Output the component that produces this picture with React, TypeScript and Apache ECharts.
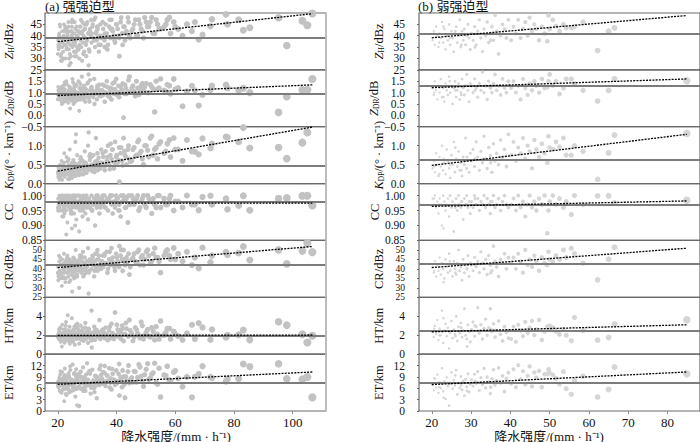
import React, { useEffect, useRef } from "react";
import * as echarts from "echarts";

// ---------- axes ----------
const yMin = [25, -0.5, 0, 0.85, 25, 0, 0];
const yMax = [50, 2.0, 1.5, 1.04, 55, 6, 15];
const yTicks = [
  [25, 30, 35, 40, 45],
  [-0.5, 0, 0.5, 1, 1.5],
  [0, 0.5, 1],
  [0.85, 0.9, 0.95, 1],
  [25, 30, 35, 40, 45, 50],
  [0, 2, 4],
  [0, 3, 6, 9, 12],
];
const yDecimals = [0, 1, 1, 2, 0, 0, 0];
const yNames = [
  "{it|Z}{sub|H}/dBz",
  "{it|Z}{sub|DR}/dB",
  "{it|K}{sub|DP}/(° · km⁻¹)",
  "CC",
  "CR/dBz",
  "HT/km",
  "ET/km",
];
const xTicksLeft = [20, 40, 60, 80, 100];
const xTicksRight = [20, 30, 40, 50, 60, 70, 80];
const xRangeLeft = [15.65, 111.35];
const xRangeRight = [16.75, 88.25];
const titles = ["(a) 强强迫型", "(b) 弱强迫型"];
const xName = "降水强度/(mm · h⁻¹)";

// ---------- fit and mean lines ----------
const fitStartLeft = [37.4, 0.87, 0.33, 0.975, 40.7, 1.98, 7.05];
const fitEndLeft = [49.7, 1.34, 1.49, 0.975, 51.8, 2.02, 10.3];
const meanLeft = [39.1, 0.94, 0.48, 0.976, 42.1, 1.96, 7.5];
const fitXLeft = [20, 106.7];
const fitStartRight = [39.1, 1.22, 0.48, 0.964, 40.7, 2.36, 6.97];
const fitEndRight = [48.9, 1.6, 1.3, 0.982, 50.9, 3.1, 10.3];
const meanRight = [40.9, 1.28, 0.63, 0.967, 42.5, 2.47, 7.5];
const fitXRight = [20, 84.9];

// ---------- left column samples (strong forcing) ----------
const xLeft = [
  33.4, 34.3, 35.3, 36.1, 36.9, 37.7, 38.5, 39.3, 40.1, 40.7,
  41.6, 42.1, 42.7, 43.2, 44.1, 44.7, 45.6, 46.4, 47.2, 48.0,
  48.8, 49.6, 50.6, 51.5, 52.5, 53.5, 54.5, 56.8, 58.0, 60.0,
  20.0, 20.7, 21.7, 22.5, 23.2, 23.9, 24.7, 25.7, 26.4, 27.1,
  27.9, 28.7, 29.3, 30.1, 30.8, 31.9, 20.15, 21.05, 22.35, 23.55,
  24.45, 25.35, 26.25, 27.5, 28.3, 29.1, 31.0, 32.8, 20.55, 21.55,
  22.55, 23.85, 24.75, 25.75, 26.85, 27.7, 29.7, 31.4, 33.2, 34.0,
  20.1, 20.3, 20.5, 20.6, 20.8, 21.0, 21.1, 21.3, 21.5, 21.6,
  21.8, 22.0, 22.1, 22.3, 22.4, 22.6, 22.8, 23.0, 23.1, 23.3,
  23.5, 23.6, 23.8, 24.0, 24.1, 24.3, 24.5, 24.6, 24.8, 25.0,
  25.1, 25.3, 25.5, 25.6, 25.8, 26.0, 26.1, 26.3, 26.5, 26.7,
  20.2, 20.9, 21.4, 22.2, 22.9, 23.4, 24.2, 24.9, 25.4, 26.2,
  20.4, 21.2, 21.9, 22.7, 23.7, 24.4, 25.2, 25.9, 26.6, 26.9,
  27.0, 27.2, 27.4, 27.6, 27.8, 28.0, 28.2, 28.4, 28.6, 28.8,
  29.0, 29.2, 29.4, 29.6, 29.8, 30.0, 30.3, 30.6, 30.9, 31.2,
  31.5, 31.8, 32.1, 32.4, 32.7, 33.0, 33.3, 33.6, 33.9, 34.2,
  34.5, 34.8, 27.3, 28.5, 29.5, 30.5, 31.6, 32.5, 33.5, 34.6,
  35.1, 35.5, 35.9, 36.3, 36.7, 37.1, 37.5, 37.9, 38.3, 38.7,
  39.1, 39.5, 39.9, 40.4, 40.9, 41.4, 41.9, 42.4, 42.9, 43.4,
  43.9, 44.4, 36.0, 38.0, 41.0,
  45.2, 46.0, 46.8, 47.6, 48.4, 49.2, 50.1, 51.0, 52.0, 53.0, 54.0, 55.0,
  56.2, 57.3, 58.4, 59.5, 61.0, 62.5, 64.0, 65.7,
  66.7, 68.0, 69.3, 72.0, 72.5, 77.3, 77.8, 81.6, 83.2, 85.4, 95.2, 98.0, 103.3, 105.0, 106.7,
];
const zhLeft = [
  44, 36, 46, 41, 34, 47, 43, 38, 45, 40,
  48, 36, 44, 41, 46, 39, 43, 47, 40, 45,
  42, 48, 44, 46, 41, 47, 43, 45, 48, 44,
  32, 45, 30, 43, 40, 27, 46, 31, 44, 34,
  47, 32, 43, 46, 33, 45, 36, 29, 42, 44,
  31, 46, 33, 41, 29, 45, 43, 48, 40, 35,
  44, 30, 42, 46, 34, 44, 31, 47, 42, 33,
  38, 34, 41, 36, 44, 31, 39, 35, 42, 37,
  33, 40, 45, 36, 38, 30, 43, 35, 39, 41,
  37, 46, 34, 38, 32, 42, 36, 40, 44, 35,
  39, 37, 33, 41, 36, 43, 38, 31, 40, 42,
  35, 37, 29, 39, 34, 42, 36, 47, 38, 33,
  40, 32, 38, 36, 44, 28, 41, 37, 35, 39,
  39, 42, 36, 44, 38, 35, 41, 46, 37, 40,
  33, 43, 39, 36, 45, 38, 41, 34, 42, 40,
  37, 44, 39, 47, 35, 41, 38, 43, 36, 40,
  45, 39, 30, 42, 37, 27, 41, 38, 44, 36,
  40, 43, 38, 45, 41, 36, 44, 39, 47, 42,
  40, 37, 45, 43, 39, 46, 41, 44, 38, 42,
  48, 40, 35, 43, 31,
  42, 45, 40, 47, 43, 39, 46, 44, 48, 41, 45, 43,
  44, 47, 41, 46, 43, 40, 45, 42,
  46, 38.3, 40.5, 44.2, 47.2, 49.4, 45, 47, 42.4, 43.5, 47.9, 35.7, 46.6, 44.6, 49.8,
];
const zdrLeft = [
  1.2, 0.85, 1.35, 1.0, 1.25, 0.8, 1.15, 1.45, 0.9, 1.3,
  1.05, 1.4, 0.95, 1.2, 1.55, 1.0, 1.3, 0.85, 1.2, 1.1,
  1.4, 1.25, 1.0, 1.35, 1.15, 1.5, 1.2, 1.05, 1.3, 1.15,
  0.7, 1.2, 0.55, 1.35, 0.85, 1.1, 0.65, 1.3, 0.9, 1.5,
  0.75, 1.2, 0.95, 1.4, 0.6, 1.1, 1.25, 0.8, 1.45, 0.7,
  1.05, 0.5, 1.3, 0.85, 1.2, 0.65, 1.55, 1.0, 0.78, 1.18,
  0.62, 1.28, 0.92, 1.08, 0.68, 1.38, 0.82, 1.22, 0.98, 1.12,
  0.9, 1.1, 0.7, 1.0, 0.8, 1.2, 0.95, 0.6, 1.05, 0.85,
  1.3, 0.75, 1.0, 0.9, 1.15, 0.65, 0.95, 1.4, 0.8, 1.0,
  0.9, 0.55, 1.1, 0.85, 1.25, 0.7, 1.0, 0.95, 0.8, 1.6,
  1.05, 0.9, 0.75, 1.2, 0.6, 1.0, 0.85, 1.35, 0.95, 0.7,
  1.1, 0.8, 0.5, 1.0, 1.5, 0.9, 0.3, 1.15, 0.85, 1.0,
  0.95, 1.25, 0.7, 0.9, 1.05, 0.8, 1.45, 0.6, 1.0, 0.88,
  1.0, 0.85, 1.2, 0.95, 0.7, 1.1, 1.7, 0.9, 1.05, 0.8,
  1.3, 0.95, 0.6, 1.15, 1.0, 0.85, 1.45, 0.75, 1.1, 0.9,
  1.25, 1.0, 0.8, 1.6, 0.95, 1.05, 0.7, 1.2, 0.9, 1.35,
  1.0, 0.85, 0.2, 1.15, 0.95, 1.8, 1.05, 0.5, 1.3, 0.9,
  1.1, 0.9, 1.3, 1.0, 1.5, 0.85, 1.2, 1.05, 0.7, 1.4,
  0.95, 1.15, 1.6, 1.0, 0.8, 1.25, 1.1, -0.1, 1.35, 0.95,
  1.05, 1.7, 0.6, 1.2, 1.0,
  1.2, 1.05, 1.5, 0.9, 1.3, 1.1, 1.4, 1.0, 1.25, 0.15, 1.15, 1.6,
  1.1, 1.35, 0.95, 1.6, 1.2, 0.4, 1.05, 1.3,
  1.1, 0.43, 0.9, 1.12, 1.3, 1.34, 1.2, 1.1, 1.19, 1.0, 0.13, 0.82, 1.12, 1.12, 1.6,
];
const kdpLeft = [
  0.6, 0.45, 0.8, 0.5, 0.7, 0.38, 0.9, 0.55, 0.75, 0.62,
  0.95, 0.48, 0.85, 0.7, 1.0, 0.58, 0.9, 0.72, 1.1, 0.8,
  0.65, 1.0, 0.88, 1.2, 0.75, 0.95, 1.05, 0.85, 1.15, 0.9,
  0.3, 0.15, 0.45, 0.25, 0.58, 0.12, 0.38, 0.2, 0.5, 0.32,
  0.66, 0.24, 0.55, 0.4, 0.72, 0.34, 0.18, 0.28, 0.42, 0.6,
  0.22, 0.5, 0.36, 0.46, 0.6, 0.3, 0.78, 0.5, 0.1, 0.33,
  0.26, 0.44, 0.19, 0.54, 0.31, 0.64, 0.4, 0.7, 0.56, 0.48,
  0.25, 0.4, 0.15, 0.35, 0.5, 0.2, 0.3, 0.6, 0.1, 0.45,
  0.3, 0.22, 0.55, 0.35, 0.18, 0.42, 0.28, 0.7, 0.25, 0.38,
  0.12, 0.48, 0.32, 0.2, 0.9, 0.36, 0.27, 0.52, 0.15, 0.4,
  0.3, 0.62, 0.24, 0.44, 0.33, 1.1, 0.2, 0.5, 0.38, 0.28,
  0.45, 0.18, 0.35, 0.8, 0.26, 0.4, 0.14, 0.55, 0.3, 1.3,
  0.22, 0.37, 0.48, 0.29, 0.65, 0.2, 0.42, 0.34, 0.75, 0.26,
  0.4, 0.3, 0.55, 0.35, 0.7, 0.45, 0.25, 0.6, 0.38, 0.5,
  0.3, 0.85, 0.42, 0.55, 0.28, 0.48, 1.0, 0.36, 0.62, 0.44,
  0.5, 0.32, 0.75, 0.4, 0.58, 1.2, 0.46, 0.35, 0.68, 0.52,
  0.4, 0.9, 0.22, 0.6, 0.45, 1.35, 0.5, 0.3, 0.8, 0.55,
  0.55, 0.7, 0.45, 0.85, 0.6, 1.0, 0.5, 0.75, 0.65, 0.9,
  0.4, 1.1, 0.7, 0.55, 0.95, 0.8, 0.6, 1.2, 0.75, 0.5,
  0.9, 0.65, 0.35, 1.05, 0.05,
  0.6, 0.95, 0.75, 1.15, 0.85, 0.5, 1.0, 0.7, 1.25, 0.9, 0.65, 1.1,
  0.8, 1.05, 0.7, 1.2, 0.9, 0.6, 1.15, 0.85,
  0.84, 0.77, 1.19, 0.93, 1.05, 1.23, 1.22, 1.1, 1.48, 0.94, 0.95, 0.66, 1.08, 1.35, 1.6,
];
const ccLeft = [
  0.99, 0.97, 1.0, 0.96, 0.99, 0.98, 1.0, 0.97, 0.99, 0.95,
  1.0, 0.98, 0.99, 0.96, 1.0, 0.97, 0.99, 0.98, 1.0, 0.96,
  0.99, 0.97, 1.0, 0.98, 0.99, 0.96, 1.0, 0.97, 0.99, 0.98,
  0.96, 0.99, 0.95, 0.98, 0.97, 0.99, 0.94, 1.0, 0.96, 0.98,
  0.97, 0.95, 0.99, 0.96, 0.98, 0.97, 0.95, 0.99, 0.96, 0.98,
  0.94, 1.0, 0.97, 0.95, 0.99, 0.96, 0.98, 0.97, 0.955, 0.985,
  0.965, 0.975, 0.945, 0.99, 0.96, 0.98, 0.97, 0.955, 1.0, 0.965,
  0.99, 0.97, 1.0, 0.96, 0.98, 0.95, 0.99, 0.97, 0.93, 1.0,
  0.98, 0.96, 0.99, 0.94, 0.97, 1.0, 0.95, 0.98, 0.99, 0.91,
  0.97, 0.99, 0.96, 1.0, 0.98, 0.95, 0.97, 0.99, 0.89, 0.96,
  1.0, 0.98, 0.97, 0.94, 0.99, 0.96, 0.98, 0.92, 1.0, 0.97,
  0.95, 0.99, 0.98, 0.96, 0.87, 1.0, 0.97, 0.94, 0.99, 0.98,
  0.96, 1.0, 0.93, 0.97, 0.99, 0.95, 0.98, 0.9, 0.97, 1.0,
  0.98, 0.96, 1.0, 0.97, 0.99, 0.95, 0.98, 0.93, 1.0, 0.97,
  0.96, 0.99, 0.94, 0.98, 1.0, 0.97, 0.92, 0.99, 0.96, 0.98,
  1.0, 0.95, 0.97, 0.99, 0.9, 0.98, 0.96, 1.0, 0.97, 0.94,
  0.99, 0.98, 0.88, 0.96, 1.0, 0.97, 0.95, 0.99, 0.98, 0.96,
  0.99, 0.97, 1.0, 0.96, 0.98, 0.95, 0.99, 1.0, 0.97, 0.94,
  0.98, 0.96, 1.0, 0.99, 0.97, 0.93, 0.98, 1.0, 0.96, 0.99,
  0.91, 0.97, 0.98, 1.0, 0.95,
  1.0, 0.97, 0.99, 0.95, 0.98, 1.0, 0.96, 0.99, 0.94, 0.97, 1.0, 0.96,
  0.99, 0.97, 1.0, 0.95, 0.98, 0.96, 1.0, 0.97,
  0.97, 0.951, 0.995, 0.999, 0.97, 0.99, 0.954, 0.967, 0.999, 0.951, 0.99, 0.992, 0.999, 0.999, 0.967,
];
const crLeft = [
  45, 40, 47, 43, 38, 49, 44, 41, 46, 42,
  50, 39, 45, 43, 48, 41, 46, 44, 49, 42,
  47, 45, 50, 43, 48, 46, 44, 49, 47, 45,
  38, 44, 35, 42, 46, 33, 40, 45, 37, 43,
  47, 36, 41, 44, 39, 46, 34, 42, 38, 45,
  40, 36, 43, 47, 39, 41, 44, 48, 37, 42,
  35, 45, 39, 43, 41, 46, 38, 44, 40, 47,
  41, 37, 44, 39, 46, 35, 42, 38, 45, 40,
  36, 43, 48, 39, 41, 33, 44, 38, 42, 47,
  40, 36, 43, 39, 45, 34, 41, 37, 44, 42,
  38, 46, 40, 35, 43, 39, 50, 41, 37, 44,
  36, 42, 31, 40, 45, 38, 43, 28, 41, 39,
  47, 37, 42, 35, 40, 44, 38, 41, 36, 43,
  42, 39, 45, 41, 47, 38, 44, 40, 49, 43,
  37, 46, 42, 39, 44, 41, 51, 38, 45, 43,
  40, 47, 42, 36, 44, 41, 48, 39, 45, 42,
  43, 40, 30, 46, 41, 27, 44, 39, 50, 42,
  44, 41, 47, 43, 49, 40, 45, 42, 51, 46,
  43, 39, 48, 44, 41, 47, 45, 50, 42, 46,
  44, 37, 48, 43, 52,
  45, 48, 43, 50, 46, 42, 49, 47, 44, 51, 46, 38,
  47, 50, 45, 51, 48, 44, 49, 42,
  46, 40.3, 51.2, 43.5, 47, 48.8, 47.4, 48.3, 51.8, 44.7, 50, 42.6, 49.5, 53.6, 48.8,
];
const htLeft = [
  2.3, 1.7, 2.6, 2.0, 1.5, 2.9, 2.2, 1.8, 3.1, 2.4,
  1.6, 2.7, 2.1, 3.3, 1.9, 2.5, 1.4, 2.8, 2.2, 1.7,
  3.0, 2.0, 2.6, 1.8, 2.4, 2.9, 1.6, 2.3, 2.7, 2.1,
  1.8, 2.3, 1.5, 2.6, 1.9, 2.2, 1.4, 2.9, 1.7, 2.4,
  2.0, 1.6, 2.8, 1.9, 2.3, 1.5, 2.1, 2.7, 1.3, 2.5,
  1.8, 2.2, 3.1, 1.6, 2.4, 2.0, 1.7, 2.6, 2.15, 1.75,
  2.45, 1.55, 2.35, 1.95, 2.65, 1.85, 2.25, 1.45, 2.55, 2.05,
  2.0, 1.6, 2.4, 1.8, 2.8, 1.3, 2.2, 1.9, 3.1, 1.5,
  2.1, 1.7, 2.6, 1.2, 2.3, 1.9, 3.4, 1.6, 2.0, 2.5,
  1.4, 2.2, 1.8, 2.9, 1.1, 2.0, 2.4, 1.7, 3.8, 2.1,
  1.5, 2.6, 1.9, 2.3, 1.0, 2.0, 2.7, 1.6, 2.2, 3.2,
  1.8, 2.1, 0.8, 2.5, 1.7, 4.1, 2.0, 1.4, 2.3, 1.9,
  2.6, 1.5, 2.2, 3.0, 1.8, 2.4, 1.3, 2.0, 2.8, 1.7,
  2.1, 1.7, 2.5, 1.9, 3.0, 1.5, 2.3, 2.0, 2.7, 1.4,
  2.2, 1.8, 3.3, 1.6, 2.4, 2.0, 1.2, 2.6, 1.9, 2.2,
  4.6, 1.7, 2.3, 2.9, 1.5, 2.1, 2.5, 1.8, 2.0, 3.6,
  1.6, 2.4, 1.1, 2.2, 1.9, 2.7, 0.7, 2.0, 2.3, 1.8,
  2.0, 2.4, 1.7, 2.8, 2.1, 1.5, 2.5, 1.9, 3.2, 2.2,
  1.6, 4.4, 2.0, 2.6, 1.8, 2.3, 3.0, 1.4, 2.1, 2.7,
  1.9, 3.6, 2.2, 1.7, 2.5,
  2.2, 1.8, 2.6, 2.0, 3.4, 1.6, 2.3, 1.9, 2.8, 1.5, 2.1, 3.5,
  2.0, 2.7, 1.6, 2.4, 1.9, 1.5, 2.2, 3.1,
  1.6, 3.28, 2.82, 1.51, 2.6, 1.76, 2.0, 2.04, 2.54, 1.51, 3.42, 3.07, 2.1, 1.23, 1.94,
];
const etLeft = [
  8.6, 6.9, 10.3, 7.8, 9.4, 6.2, 11.1, 8.1, 7.3, 9.8,
  8.4, 10.7, 7.0, 9.1, 12.0, 8.3, 7.6, 10.4, 8.9, 11.6,
  7.9, 9.6, 12.5, 8.7, 10.1, 7.4, 11.3, 9.3, 8.2, 10.6,
  6.8, 8.4, 5.6, 9.2, 7.3, 4.9, 8.0, 10.1, 6.2, 7.7,
  9.0, 5.3, 8.6, 7.0, 10.6, 6.5, 7.9, 5.0, 9.5, 6.9,
  8.2, 7.4, 11.0, 6.0, 8.8, 7.2, 9.9, 6.6, 7.6, 8.5,
  5.8, 9.3, 7.1, 6.3, 8.9, 10.3, 7.8, 6.1, 9.1, 8.0,
  7.5, 6.2, 8.8, 5.4, 9.6, 7.0, 8.2, 4.8, 10.3, 6.8,
  7.8, 5.9, 9.1, 6.5, 11.2, 7.3, 8.5, 4.2, 7.9, 6.1,
  9.4, 7.1, 5.6, 8.7, 6.9, 10.8, 7.6, 5.2, 8.3, 6.6,
  12.3, 7.2, 9.8, 6.0, 8.0, 3.8, 7.4, 9.0, 5.8, 8.6,
  6.4, 10.5, 7.7, 2.6, 8.9, 6.3, 11.8, 7.0, 5.5, 9.3,
  7.9, 6.7, 8.4, 4.5, 10.0, 7.2, 6.0, 8.1, 1.5, 9.7,
  8.0, 6.5, 9.2, 7.1, 10.4, 5.8, 8.6, 7.4, 11.5, 6.2,
  8.9, 7.7, 5.3, 9.6, 7.0, 12.6, 8.3, 6.8, 9.9, 4.6,
  7.5, 10.9, 8.1, 6.1, 9.3, 7.8, 3.4, 8.7, 6.9, 11.1,
  7.3, 9.5, 1.3, 8.2, 6.4, 10.2, 7.6, 5.0, 8.8, 12.0,
  8.5, 7.2, 10.1, 6.6, 9.4, 8.0, 11.3, 7.5, 5.7, 9.8,
  8.3, 6.9, 10.7, 7.8, 12.4, 8.9, 6.3, 9.1, 3.5, 8.0,
  10.4, 7.4, 11.9, 8.6, 4.1,
  8.8, 10.5, 7.6, 12.3, 9.2, 6.5, 11.0, 8.3, 9.7, 12.6, 7.1, 3.7,
  9.5, 11.8, 7.9, 10.2, 8.6, 6.4, 9.0, 3.6,
  9.0, 9.8, 11.8, 9.0, 8.7, 7.8, 8.5, 8.5, 12.4, 11.7, 12.45, 8.5, 8.35, 9.0, 3.6,
];

// ---------- right column samples (weak forcing) ----------
const xRight = [
  20.2, 20.5, 20.8, 21.1, 21.4, 21.7, 22.0, 22.3, 22.6, 22.9,
  23.2, 23.5, 23.8, 24.1, 24.4, 24.7, 25.0, 25.3, 25.6, 25.9,
  26.2, 26.5, 26.8, 27.1, 27.4, 27.7, 28.0, 28.3, 28.6, 28.9,
  29.2, 29.5, 29.8, 20.6, 21.9, 23.0, 24.6, 26.0, 27.5, 29.0,
  30.1, 30.5, 30.9, 31.3, 31.7, 32.1, 32.5, 32.9, 33.3, 33.7,
  34.1, 34.5, 34.9, 35.3, 35.7, 36.1, 36.5, 37.0, 37.5, 38.0,
  38.5, 39.0, 39.5, 31.0, 35.0,
  40.2, 40.8, 41.4, 42.0, 42.6, 43.2, 43.8, 44.4, 44.9, 45.5,
  46.1, 46.6, 47.3, 48.0, 48.7, 49.4, 49.7, 50.0,
  50.8, 51.6, 52.5, 53.5, 54.2, 55.5, 56.3, 58.5,
  62.2, 65.0, 66.5, 84.9,
];
const zhRight = [
  38, 42, 36, 44, 40, 35, 41, 39, 46, 37,
  43, 34, 40, 38, 45, 36, 42, 39, 33, 41,
  44, 37, 40, 47, 35, 42, 38, 43, 36, 40,
  45, 39, 34, 41, 37, 44, 39, 42, 36, 40,
  41, 38, 44, 36, 42, 47, 39, 33, 43, 40,
  46, 37, 41, 44, 38, 49, 42, 32, 40, 45,
  43, 39, 47, 35, 38,
  38, 44, 41, 47, 39, 43, 46, 40, 48, 42,
  45, 43, 38, 44, 41, 37.6, 48.9, 43,
  47, 44.2, 42, 45, 43.5, 43.5, 44, 46,
  33.5, 42, 43.5, 51,
];
const zdrRight = [
  1.2, 0.9, 1.5, 1.1, 0.7, 1.3, 1.0, 1.6, 0.8, 1.2,
  0.6, 1.4, 1.1, 0.9, 1.7, 1.0, 1.3, 0.5, 1.2, 1.5,
  0.8, 1.1, 1.4, 0.7, 1.0, 1.6, 1.2, 0.9, 1.3, 1.8,
  1.1, 0.6, 1.4, 1.0, 1.2, 0.8, 1.5, 1.1, 0.9, 1.3,
  1.3, 1.0, 1.6, 1.2, 0.8, 1.4, 1.1, 1.9, 1.0, 1.3,
  0.7, 1.5, 1.2, 1.0, 1.4, 1.8, 1.1, 1.3, 0.9, 1.6,
  1.2, 1.0, 1.5, 1.1, 1.3,
  1.2, 1.5, 1.0, 1.3, 0.7, 1.6, 1.2, 0.9, 1.4, 1.1,
  1.5, 1.3, 1.0, 1.6, 1.2, 1.24, 1.5, 1.8,
  1.3, 1.5, 0.94, 1.2, 1.6, 1.6, 1.4, 1.1,
  0.63, 1.09, 1.6, 1.52,
];
const kdpRight = [
  0.4, 0.6, 0.3, 0.8, 0.5, 0.2, 0.7, 0.45, 1.0, 0.35,
  0.55, 0.25, 0.9, 0.6, 0.4, 0.15, 0.75, 0.5, 1.1, 0.3,
  0.65, 0.45, 0.85, 0.35, 0.55, 0.2, 0.7, 0.5, 1.2, 0.4,
  0.6, 0.3, 0.8, 0.45, 0.25, 0.65, 0.5, 0.95, 0.35, 0.7,
  0.6, 0.9, 0.45, 1.1, 0.7, 0.35, 0.85, 0.55, 1.25, 0.65,
  0.4, 0.95, 0.75, 0.3, 1.05, 0.6, 0.8, 0.5, 1.15, 0.7,
  0.9, 0.45, 1.3, 0.65, 0.55,
  0.75, 1.1, 0.6, 0.95, 0.8, 1.2, 0.65, 1.0, 0.85, 0.4,
  1.15, 0.9, 0.7, 1.05, 0.8, 0.55, 1.25, 0.95,
  0.9, 1.1, 0.97, 1.2, 0.75, 0.75, 1.0, 0.85,
  0.11, 0.81, 1.28, 1.32,
];
const ccRight = [
  0.99, 0.97, 1.0, 0.96, 0.98, 0.94, 0.99, 0.97, 0.9, 1.0,
  0.98, 0.95, 0.97, 0.99, 0.93, 1.0, 0.96, 0.98, 0.88, 0.97,
  0.99, 0.95, 1.0, 0.97, 0.96, 0.98, 0.92, 0.99, 0.97, 1.0,
  0.96, 0.98, 0.94, 0.99, 0.97, 0.89, 1.0, 0.96, 0.98, 0.97,
  0.98, 0.96, 1.0, 0.97, 0.99, 0.95, 0.98, 0.97, 1.0, 0.96,
  0.99, 0.97, 0.94, 0.98, 1.0, 0.96, 0.97, 0.99, 0.95, 0.98,
  1.0, 0.97, 0.96, 0.99, 0.98,
  0.97, 0.99, 0.95, 1.0, 0.96, 0.98, 0.93, 0.97, 1.0, 0.96,
  0.98, 0.95, 0.99, 0.97, 1.0, 0.874, 0.95, 0.98,
  1.0, 0.97, 0.99, 0.96, 0.98, 0.937, 1.0, 0.97,
  0.999, 0.999, 0.975, 0.984,
];
const crRight = [
  41, 38, 44, 36, 42, 39, 46, 37, 43, 40,
  35, 45, 41, 38, 48, 39, 42, 36, 44, 40,
  37, 43, 50, 39, 41, 34, 45, 38, 42, 40,
  47, 36, 43, 39, 41, 33, 44, 38, 42, 40,
  42, 39, 46, 41, 44, 38, 49, 43, 40, 45,
  37, 47, 42, 39, 52, 44, 41, 36, 45, 43,
  48, 40, 46, 42, 38,
  43, 46, 40, 48, 44, 38, 50, 42, 45, 41,
  47, 44, 39, 46, 43, 42, 49, 45,
  44, 47, 45, 50, 46, 50.9, 48, 43,
  34.2, 45.1, 51.4, 56,
];
const htRight = [
  2.4, 1.8, 3.0, 2.1, 3.6, 1.5, 2.7, 2.0, 4.6, 1.2,
  2.5, 3.2, 1.9, 2.8, 0.6, 2.3, 3.5, 1.7, 2.6, 2.1,
  4.0, 1.4, 2.9, 2.2, 3.3, 1.8, 2.5, 4.8, 2.0, 1.6,
  3.1, 2.4, 1.3, 2.7, 2.0, 3.8, 2.3, 1.9, 2.8, 0.8,
  2.6, 3.4, 1.9, 2.9, 4.9, 2.2, 3.1, 1.6, 2.7, 3.7,
  2.0, 2.8, 4.8, 2.4, 3.2, 1.8, 2.5, 3.5, 2.1, 1.4,
  2.9, 2.3, 1.7, 3.0, 2.6,
  1.6, 2.9, 1.3, 3.1, 2.5, 1.9, 3.4, 2.2, 2.8, 3.5,
  2.0, 2.6, 3.6, 1.5, 2.4, 2.9, 2.7, 3.0,
  2.8, 2.4, 2.1, 2.6, 2.0, 1.41, 3.87, 2.5,
  1.48, 1.76, 3.17, 3.63,
];
const etRight = [
  7.0, 5.5, 8.5, 6.2, 9.6, 4.8, 7.6, 6.0, 11.3, 5.2,
  7.8, 3.2, 8.9, 6.5, 1.4, 7.2, 10.2, 5.9, 8.1, 6.7,
  10.8, 4.4, 7.4, 6.1, 9.1, 5.6, 7.9, 4.0, 8.4, 6.4,
  9.8, 5.0, 7.1, 8.7, 6.3, 3.5, 7.5, 9.4, 6.8, 5.3,
  8.2, 6.6, 9.7, 7.3, 10.4, 5.4, 8.8, 7.0, 11.2, 6.1,
  9.0, 7.7, 4.6, 8.5, 10.9, 6.9, 8.0, 11.4, 7.4, 9.3,
  5.1, 8.6, 10.1, 7.9, 6.3,
  7.2, 11.0, 6.3, 12.1, 8.4, 10.5, 7.0, 9.3, 11.8, 6.5,
  10.2, 8.8, 10.6, 6.3, 9.7, 9.8, 11.0, 10.0,
  9.5, 8.6, 7.1, 10.4, 5.9, 4.4, 8.0, 9.2,
  3.7, 5.7, 11.6, 9.8,
];

const yLeft = [zhLeft, zdrLeft, kdpLeft, ccLeft, crLeft, htLeft, etLeft];
const yRight = [zhRight, zdrRight, kdpRight, ccRight, crRight, htRight, etRight];

// ---------- layout ----------
const PANEL_TOP = 13;
const PANEL_H = 56.86;
const FONT = "'Liberation Serif', 'Times New Roman', 'Noto Sans CJK SC', serif";
const yLabelSize = [11.5, 11.5, 11.5, 11.5, 9.5, 11.5, 11.5];

function fmt(v: number, d: number) {
  const s = Math.abs(v).toFixed(d);
  return v < 0 ? "\u2212" + s : s;
}

function buildColumn(
  col: number,
  gridLeft: number,
  gridWidth: number,
  xs: number[],
  ys: number[][],
  means: number[],
  fitStart: number[],
  fitEnd: number[],
  fitX: number[],
  xRange: number[],
  xTicks: number[],
  color: string,
  sizeFn: (x: number) => number,
  nameGap: number,
  labelMargin: number
) {
  const grids: any[] = [];
  const xAxes: any[] = [];
  const yAxes: any[] = [];
  const series: any[] = [];
  for (let i = 0; i < 7; i++) {
    const idx = col * 7 + i;
    const isBottom = i === 6;
    grids.push({
      left: gridLeft,
      width: gridWidth,
      top: PANEL_TOP + i * PANEL_H,
      height: PANEL_H,
      show: true,
      borderColor: "#6a6a6a",
      borderWidth: 1.2,
      backgroundColor: "transparent",
    });
    xAxes.push({
      type: "value",
      gridIndex: idx,
      min: xRange[0],
      max: xRange[1],
      axisLine: { show: false },
      splitLine: { show: false },
      axisTick: {
        show: isBottom,
        length: 3,
        customValues: xTicks,
        lineStyle: { color: "#888" },
      },
      axisLabel: {
        show: isBottom,
        customValues: xTicks,
        fontFamily: FONT,
        fontSize: 13,
        color: "#111",
        margin: 5,
      },
    });
    yAxes.push({
      type: "value",
      gridIndex: idx,
      min: yMin[i],
      max: yMax[i],
      axisLine: { show: false },
      splitLine: { show: false },
      axisTick: {
        show: true,
        length: 2,
        customValues: yTicks[i],
        lineStyle: { color: "#666" },
      },
      axisLabel: {
        customValues: yTicks[i],
        formatter: (v: number) => fmt(v, yDecimals[i]),
        fontFamily: FONT,
        fontSize: yLabelSize[i],
        lineHeight: yLabelSize[i],
        color: "#111",
        margin: labelMargin,
      },
      name: yNames[i],
      nameLocation: "middle",
      nameGap: nameGap,
      nameTextStyle: {
        fontFamily: FONT,
        fontSize: 12.5,
        color: "#111",
        rich: {
          it: { fontFamily: FONT, fontSize: 12.5, fontStyle: "italic", color: "#111" },
          sub: { fontFamily: FONT, fontSize: 7.5, color: "#111", verticalAlign: "bottom", padding: [5, 0, 0, 0] },
        },
      },
    });
    series.push({
      type: "scatter",
      xAxisIndex: idx,
      yAxisIndex: idx,
      data: xs.map((x, k) => [x, ys[i][k]]),
      symbolSize: (v: number[]) => sizeFn(v[0]),
      itemStyle: { color: color, opacity: 1 },
      silent: true,
      z: 2,
    });
    series.push({
      type: "line",
      xAxisIndex: idx,
      yAxisIndex: idx,
      data: [
        [fitX[0], fitStart[i]],
        [fitX[1], fitEnd[i]],
      ],
      showSymbol: false,
      symbol: "none",
      lineStyle: { color: "#000", width: 1.3, type: [2, 1.2] },
      silent: true,
      z: 10,
      markLine: {
        silent: true,
        symbol: "none",
        label: { show: false },
        lineStyle: { color: "#7c7c7c", width: 2, type: "solid" },
        data: [{ yAxis: means[i] }],
        z: 5,
      },
    });
  }
  return { grids, xAxes, yAxes, series };
}

export default function App() {
  const ref = useRef<HTMLDivElement>(null);
  useEffect(() => {
    if (!ref.current) return;
    const chart = echarts.init(ref.current, undefined, { renderer: "svg" });
    const L = buildColumn(
      0, 45, 281, xLeft, yLeft, meanLeft, fitStartLeft, fitEndLeft, fitXLeft,
      xRangeLeft, xTicksLeft, "#c2c2c2", (x) => 3.8 + (x - 20) * 0.05, 30, 3
    );
    const R = buildColumn(
      1, 419, 282, xRight, yRight, meanRight, fitStartRight, fitEndRight, fitXRight,
      xRangeRight, xTicksRight, "#d6d6d6", (x) => 2.3 + (x - 20) * 0.08, 34, 14
    );
    const option: any = {
      animation: false,
      backgroundColor: "#fff",
      grid: [...L.grids, ...R.grids],
      xAxis: [...L.xAxes, ...R.xAxes],
      yAxis: [...L.yAxes, ...R.yAxes],
      series: [...L.series, ...R.series],
      graphic: [
        {
          type: "text",
          left: 45,
          top: 0,
          z: 100,
          style: { text: titles[0], fontFamily: FONT, fontSize: 13, fill: "#111" },
        },
        {
          type: "text",
          left: 418,
          top: 0,
          z: 100,
          style: { text: titles[1], fontFamily: FONT, fontSize: 13, fill: "#111" },
        },
        {
          type: "text",
          x: 176,
          y: 436,
          z: 100,
          style: {
            text: xName,
            fontFamily: FONT,
            fontSize: 13,
            fill: "#111",
            align: "center",
            verticalAlign: "middle",
          },
        },
        {
          type: "text",
          x: 549,
          y: 436,
          z: 100,
          style: {
            text: xName,
            fontFamily: FONT,
            fontSize: 13,
            fill: "#111",
            align: "center",
            verticalAlign: "middle",
          },
        },
        {
          type: "line",
          z: 100,
          shape: { x1: 326, y1: PANEL_TOP, x2: 326, y2: PANEL_TOP + 7 * PANEL_H },
          style: { stroke: "#c8c8c8", lineWidth: 1.4 },
        },
      ],
    };
    chart.setOption(option);
    return () => chart.dispose();
  }, []);
  return (
    <div
      ref={ref}
      style={{ position: "fixed", left: 0, top: 0, width: 700, height: 442, background: "#fff" }}
    />
  );
}
